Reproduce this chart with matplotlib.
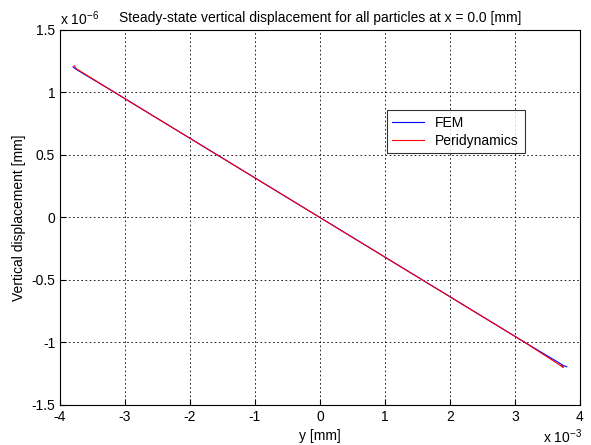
import matplotlib
matplotlib.use('Agg')
import matplotlib.pyplot as plt
from matplotlib.ticker import FuncFormatter

plt.rcParams['font.family'] = ['Liberation Sans', 'DejaVu Sans']
plt.rcParams['mathtext.fontset'] = 'custom'
plt.rcParams['mathtext.rm'] = 'Liberation Sans'

# posiciones y (mm) y desplazamiento vertical (mm)
y_fem = [-3.80e-3, -3.75e-3, -3.125e-3, -2.5e-3, -1.875e-3, -1.25e-3, -0.625e-3, 0.0,
         0.625e-3, 1.25e-3, 1.875e-3, 2.5e-3, 3.125e-3, 3.75e-3, 3.80e-3]
u_fem = [1.205e-6, 1.185e-6, 0.99e-6, 0.792e-6, 0.594e-6, 0.396e-6, 0.198e-6, 0.0,
         -0.198e-6, -0.396e-6, -0.594e-6, -0.792e-6, -0.99e-6, -1.185e-6, -1.195e-6]
y_peri = [-3.78e-3, -3.75e-3, -3.125e-3, -2.5e-3, -1.875e-3, -1.25e-3, -0.625e-3, 0.0,
          0.625e-3, 1.25e-3, 1.875e-3, 2.5e-3, 3.125e-3, 3.75e-3, 3.72e-3]
u_peri = [1.215e-6, 1.19e-6, 0.99e-6, 0.792e-6, 0.594e-6, 0.396e-6, 0.198e-6, 0.0,
          -0.198e-6, -0.396e-6, -0.594e-6, -0.792e-6, -0.99e-6, -1.20e-6, -1.185e-6]

fig = plt.figure(figsize=(5.91, 4.45), dpi=100)
ax = fig.add_axes([0.1015, 0.09, 0.8795, 0.8426])

ax.plot(y_fem, u_fem, color='blue', lw=0.8, label='FEM')
ax.plot(y_peri, u_peri, color='red', lw=0.8, label='Peridynamics')

ax.set_xlim(-4e-3, 4e-3)
ax.set_ylim(-1.5e-6, 1.5e-6)
ax.set_xticks([i * 1e-3 for i in range(-4, 5)])
ax.set_yticks([i * 0.5e-6 for i in range(-3, 4)])
ax.xaxis.set_major_formatter(FuncFormatter(lambda v, p: f"{round(v / 1e-3, 2):g}"))
ax.yaxis.set_major_formatter(FuncFormatter(lambda v, p: f"{round(v / 1e-6, 2):g}"))
ax.tick_params(direction='in', labelsize=10, length=4)
ax.grid(True, color='black', linestyle=(0, (2, 3)), lw=0.6)

ax.text(0.0, 1.005, r'x 10$^{-6}$', transform=ax.transAxes, fontsize=10, ha='left', va='bottom')
ax.text(1.005, -0.06, r'x 10$^{-3}$', transform=ax.transAxes, fontsize=10, ha='right', va='top')

ax.set_title('Steady-state vertical displacement for all particles at x = 0.0 [mm]', fontsize=10)
ax.set_xlabel('y [mm]', fontsize=10, labelpad=4)
ax.set_ylabel('Vertical displacement [mm]', fontsize=10)

leg = ax.legend(loc='upper left', bbox_to_anchor=(0.615, 0.805), fancybox=False,
                edgecolor='black', fontsize=10, handlelength=2.3, borderpad=0.4,
                labelspacing=0.3)
leg.get_frame().set_linewidth(0.8)

fig.savefig('out.png', dpi=100)
